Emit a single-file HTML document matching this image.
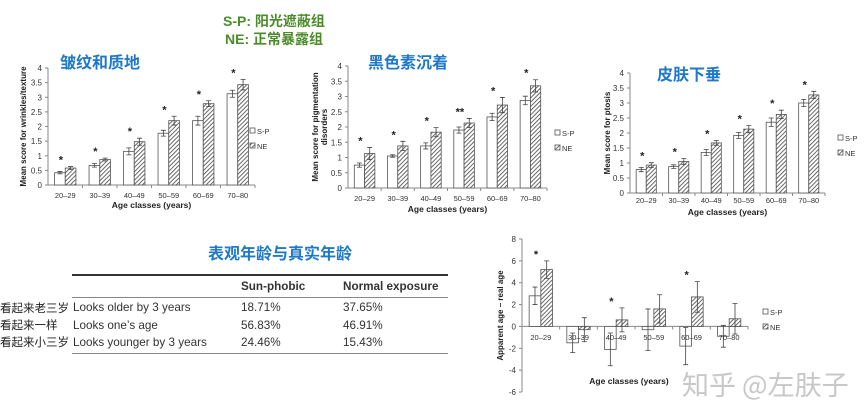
<!DOCTYPE html>
<html><head><meta charset="utf-8">
<style>
body{margin:0;background:#fff;width:865px;height:418px;overflow:hidden;position:relative;font-family:"Liberation Sans","Noto Sans CJK SC",sans-serif;}
.abs{position:absolute;white-space:nowrap;}
.green{color:#4b8b2b;font-weight:bold;font-size:14px;}
.ttl{color:#1f78c8;font-weight:bold;font-size:16px;font-family:"Noto Sans CJK SC",sans-serif;}
.tb{font-family:"Liberation Sans","Noto Sans CJK SC",sans-serif;font-size:11.7px;color:#333;}
.zh{font-family:"Noto Sans CJK SC",sans-serif;font-size:11.5px;color:#222;}
</style></head><body>
<div class="abs green" style="left:223px;top:11px;">S-P: 阳光遮蔽组</div>
<div class="abs green" style="left:225px;top:29px;">NE: 正常暴露组</div>
<div class="abs ttl" style="left:60px;top:49px;">皱纹和质地</div>
<div class="abs ttl" style="left:368px;top:49px;">黑色素沉着</div>
<div class="abs ttl" style="left:657px;top:61px;">皮肤下垂</div>
<div class="abs ttl" style="left:208px;top:240px;">表观年龄与真实年龄</div>

<div>
<div class="abs" style="left:72px;top:274px;width:376px;height:2px;background:#333;"></div>
<div class="abs" style="left:72px;top:297px;width:376px;height:1px;background:#888;"></div>
<div class="abs" style="left:72px;top:353px;width:376px;height:1px;background:#888;"></div>
<div class="abs tb" style="left:241px;top:280px;font-weight:bold;">Sun-phobic</div>
<div class="abs tb" style="left:343px;top:280px;font-weight:bold;">Normal exposure</div>
<div class="abs tb" style="left:73px;top:301px;">Looks older by 3 years</div>
<div class="abs tb" style="left:241px;top:301px;">18.71%</div>
<div class="abs tb" style="left:343px;top:301px;">37.65%</div>
<div class="abs tb" style="left:73px;top:319px;">Looks one’s age</div>
<div class="abs tb" style="left:241px;top:319px;">56.83%</div>
<div class="abs tb" style="left:343px;top:319px;">46.91%</div>
<div class="abs tb" style="left:73px;top:336px;">Looks younger by 3 years</div>
<div class="abs tb" style="left:241px;top:336px;">24.46%</div>
<div class="abs tb" style="left:343px;top:336px;">15.43%</div>
<div class="abs zh" style="left:0px;top:300px;">看起来老三岁</div>
<div class="abs zh" style="left:0px;top:317px;">看起来一样</div>
<div class="abs zh" style="left:0px;top:334px;">看起来小三岁</div>
</div>

<svg id="svg" width="865" height="418" style="position:absolute;left:0;top:0;">
<defs><pattern id="hatch" width="3" height="3" patternUnits="userSpaceOnUse" patternTransform="rotate(45)">
<rect width="3" height="3" fill="#fff"/><line x1="0" y1="0" x2="0" y2="3" stroke="#444" stroke-width="1.6"/></pattern></defs>
</svg>
<div class="abs" style="left:682px;top:364px;font-size:27px;color:#c8c8c8;font-family:'Noto Sans CJK SC',sans-serif;">知乎 @左肤子</div>

<script>
const categories=["20–29","30–39","40–49","50–59","60–69","70–80"];
const wrinkSP=[0.42,0.67,1.15,1.77,2.2,3.12];
const wrinkNE=[0.58,0.87,1.48,2.2,2.78,3.43];
const wrinkErrSP=[0.04,0.06,0.12,0.1,0.15,0.12];
const wrinkErrNE=[0.05,0.05,0.12,0.15,0.1,0.18];
const pigSP=[0.75,1.05,1.38,1.9,2.33,2.87];
const pigNE=[1.13,1.38,1.83,2.13,2.72,3.35];
const pigErrSP=[0.07,0.04,0.1,0.1,0.12,0.14];
const pigErrNE=[0.2,0.15,0.15,0.15,0.25,0.2];
const ptoSP=[0.78,0.88,1.35,1.92,2.36,3.0];
const ptoNE=[0.93,1.05,1.67,2.13,2.62,3.27];
const ptoErrSP=[0.07,0.06,0.1,0.1,0.14,0.12];
const ptoErrNE=[0.08,0.1,0.08,0.12,0.14,0.12];
const appSP=[2.8,-1.5,-2.1,-0.3,-1.8,-0.9];
const appNE=[5.2,-0.3,0.6,1.6,2.7,0.7];
const appErrSP=[0.8,0.9,1.5,1.9,1.7,1.0];
const appErrNE=[0.8,1.1,1.1,1.3,1.4,1.4];
const scoreTicks=["0","0.5","1","1.5","2","2.5","3","3.5","4"];
const scoreTickVals=[0,0.5,1,1.5,2,2.5,3,3.5,4];
const appTickVals=[-6,-4,-2,0,2,4,6,8];
const wrinkStars=["*","*","*","*","*","*"];
const pigStars=["*","*","*","**","*","*"];
const ptoStars=["*","*","*","*","*","*"];
const appStars=["*","","*","","*",""];

const svg=document.getElementById('svg');
const NS="http://www.w3.org/2000/svg";
function mk(tag,attrs,txt){const e=document.createElementNS(NS,tag);for(const k in attrs)e.setAttribute(k,attrs[k]);if(txt!==undefined)e.textContent=txt;svg.appendChild(e);return e;}

function chart(c){
  const yS=v=>c.y0+(v-c.min)/(c.max-c.min)*(c.y1-c.y0);
  const gw=(c.x1-c.x0)/categories.length;
  const xS=i=>c.x0+gw*i;
  const zero=yS(Math.max(c.min,0));
  let a=mk('line',{x1:c.x0,y1:c.y0,x2:c.x0,y2:c.y1,stroke:'#888','stroke-width':1});
  
  a=mk('line',{x1:c.x0,y1:zero,x2:c.x1,y2:zero,stroke:'#888','stroke-width':1});
  
  c.ticks.forEach((v,i)=>{
    const y=yS(v);
    const t=mk('line',{x1:c.x0-3,y1:y,x2:c.x0,y2:y,stroke:'#888'});
    
    const l=mk('text',{x:c.x0-6,y:y+3,'font-size':8,'text-anchor':'end',fill:'#333'},c.tickLabels?c.tickLabels[i]:String(v));
    
  });
  categories.forEach((cat,i)=>{
    const gx=xS(i);
    const t=mk('line',{x1:gx+gw,y1:zero,x2:gx+gw,y2:zero+3,stroke:'#888'});
    
    const bw=gw*0.31, cx=gx+gw/2;
    [[c.sp,c.esp,cx-bw,'#fff','sp'],[c.ne,c.ene,cx,'url(#hatch)','ne']].forEach(([arr,err,bx,fill,s])=>{
      const v=arr[i], y=yS(v);
      const r=mk('rect',{x:bx,y:Math.min(y,zero),width:bw,height:Math.abs(zero-y),fill:fill,stroke:'#555','stroke-width':0.8});
      
      const e=err[i], ex=bx+bw/2;
      const y1=yS(v+e), y2=yS(v-e);
      const el=mk('path',{d:`M${ex},${y1}V${y2}M${ex-2.5},${y1}H${ex+2.5}M${ex-2.5},${y2}H${ex+2.5}`,stroke:'#444','stroke-width':0.8,fill:'none'});
      
    });
    if(c.stars[i]){
      const top=Math.max(c.sp[i]+c.esp[i],c.ne[i]+c.ene[i]);
      const st=mk('text',{x:cx-bw/2+1,y:yS(top)-3,'font-size':11,'text-anchor':'middle',fill:'#222','font-weight':'bold'},c.stars[i]);
      
    }
    const cl=mk('text',{x:cx,y:c.catY,'font-size':7.5,'text-anchor':'middle',fill:'#333'},cat);
    
  });
  let t=mk('text',{x:(c.x0+c.x1)/2+(c.xtOff||0),y:c.xtY,'font-size':8.5,'font-weight':'bold','text-anchor':'middle',fill:'#222'},"Age classes (years)");
  
  const ym=(c.y0+c.y1)/2;
  t=mk('text',{x:0,y:0,'font-size':8,'font-weight':'bold','text-anchor':'middle',fill:'#222',transform:`translate(${c.ytX},${ym}) rotate(-90)`});
  
  c.ytitle.forEach((line,k)=>{const ts=document.createElementNS(NS,'tspan');ts.setAttribute('x',0);ts.setAttribute('dy',k?9:0);ts.textContent=line;t.appendChild(ts);});
  let r=mk('rect',{x:c.lx,y:c.ly-6,width:5,height:5,fill:'#fff',stroke:'#555','stroke-width':0.8});
  
  t=mk('text',{x:c.lx+7,y:c.ly,'font-size':7.5,fill:'#333'},"S-P");
  
  r=mk('rect',{x:c.lx,y:c.ly+9,width:5,height:5,fill:'url(#hatch)',stroke:'#555','stroke-width':0.8});
  
  t=mk('text',{x:c.lx+7,y:c.ly+15,'font-size':7.5,fill:'#333'},"NE");
  
}
chart({name:'wrinkles',x0:48,x1:255,y0:185,y1:68,min:0,max:4,ticks:scoreTickVals,tickLabels:scoreTicks,sp:wrinkSP,ne:wrinkNE,esp:wrinkErrSP,ene:wrinkErrNE,stars:wrinkStars,catY:198,xtY:208,ytX:26,ytitle:["Mean score for wrinkles/texture"],lx:250,ly:134});
chart({name:'pigmentation',x0:348,x1:547,y0:188,y1:66,min:0,max:4,ticks:scoreTickVals,tickLabels:scoreTicks,sp:pigSP,ne:pigNE,esp:pigErrSP,ene:pigErrNE,stars:pigStars,catY:201,xtY:212,ytX:318,ytitle:["Mean score for pigmentation","disorders"],lx:555,ly:136});
chart({name:'ptosis',x0:630,x1:825,y0:193,y1:73,min:0,max:4,ticks:scoreTickVals,tickLabels:scoreTicks,sp:ptoSP,ne:ptoNE,esp:ptoErrSP,ene:ptoErrNE,stars:ptoStars,catY:203,xtY:215,ytX:610,ytitle:["Mean score for ptosis"],lx:838,ly:141});
chart({name:'apparent-age',x0:522,x1:748,y0:392,y1:239,min:-6,max:8,ticks:appTickVals,sp:appSP,ne:appNE,esp:appErrSP,ene:appErrNE,stars:appStars,catY:340,xtY:384,xtOff:-6,ytX:503,ytitle:["Apparent age – real age"],lx:763,ly:315});
</script>
</body></html>
